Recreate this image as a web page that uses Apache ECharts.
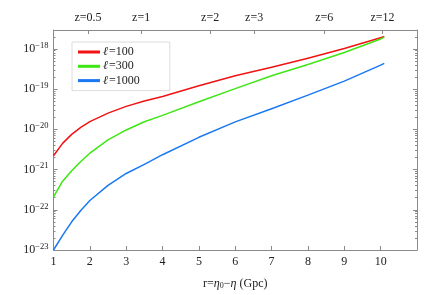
<!DOCTYPE html>
<html><head><meta charset="utf-8">
<script src="https://cdn.jsdelivr.net/npm/echarts@6/dist/echarts.min.js"></script>
<style>html,body{margin:0;padding:0;background:#fff}#c{width:439px;height:295px}#err{position:absolute;top:150px;left:0;font-size:10px;color:#000}</style>
</head><body><div id="c"></div><div id="err"></div>
<script>
const rValues = [1, 1.25, 1.5, 1.75, 2, 2.5, 3, 3.5, 4, 5, 6, 7, 8, 9, 10, 10.1];
const l100 = [2.21e-21, 4.47e-21, 7.50e-21, 1.12e-20, 1.56e-20, 2.53e-20, 3.72e-20, 5.07e-20, 6.53e-20, 1.21e-19, 2.14e-19, 3.49e-19, 5.89e-19, 1.02e-18, 1.90e-18, 2.03e-18];
const l300 = [2.08e-22, 5.13e-22, 9.35e-22, 1.59e-21, 2.55e-21, 5.45e-21, 9.66e-21, 1.54e-20, 2.22e-20, 4.85e-20, 1.03e-19, 2.15e-19, 4.09e-19, 8.13e-19, 1.77e-18, 1.96e-18];
const l1000 = [1.00e-23, 2.32e-23, 5.02e-23, 9.64e-23, 1.70e-22, 4.05e-22, 8.00e-22, 1.35e-21, 2.34e-21, 6.34e-21, 1.53e-20, 3.24e-20, 7.11e-20, 1.58e-19, 3.94e-19, 4.38e-19];
const seriesNames = ['ℓ=100', 'ℓ=300', 'ℓ=1000'];
const zLabels = ['z=0.5', 'z=1', 'z=2', 'z=3', 'z=6', 'z=12'];
const zPositions = [1.95, 3.41, 5.31, 6.52, 8.45, 10.05];
const xTicks = [1, 2, 3, 4, 5, 6, 7, 8, 9, 10];
const yDecades = [-23, -22, -21, -20, -19, -18];

const colors = ['#f21212', '#3ee614', '#1a78f2'];
const axisColor = '#8a8a8a';
const font = 'Liberation Serif, DejaVu Serif, serif';
// log10 axis range (the library's log axis rounds 1e-23 to zero, so plot on log10 scale)
const yMin = -23, yMax = -17.53;
const minorTicks = [];
yDecades.forEach(d => { for (let k = 2; k <= 9; k++) { const v = d + Math.log10(k); if (v < yMax) minorTicks.push(v); } });

function pair(xs, ys) { return xs.map((x, i) => [x, Math.log10(ys[i])]); }
function expLabel(v) {
  const e = Math.round(v);
  return '10{sup|' + (e < 0 ? '−' + (-e) : e) + '}';
}
const supRich = { sup: { fontSize: 8.5, fontFamily: font, color: '#222', verticalAlign: 'top', padding: [0, 0, 7, 0] } };

function yAx(pos, major) {
  return {
    type: 'value', position: pos, min: yMin, max: yMax, interval: 1,
    axisLine: { show: major, lineStyle: { color: axisColor, width: 1 } },
    axisTick: { inside: true, length: major ? 4 : 2, lineStyle: { color: axisColor }, customValues: major ? yDecades : minorTicks },
    axisLabel: major && pos === 'left' ? { customValues: yDecades, formatter: expLabel, fontFamily: font, fontSize: 12, color: '#222', margin: 5, rich: supRich } : { show: false },
    splitLine: { show: false }
  };
}

try {
const chart = echarts.init(document.getElementById('c'), null, { renderer: 'canvas' });
const lineData = [l100, l300, l1000];
chart.setOption({
  animation: false,
  backgroundColor: '#fff',
  grid: { left: 53.5, right: 22, top: 30, bottom: 41, containLabel: false },
  legend: {
    show: true, orient: 'vertical', left: 72, top: 42,
    data: seriesNames,
    icon: 'rect', itemWidth: 22, itemHeight: 3, itemGap: 2.3,
    padding: [4, 30, 4, 6],
    borderColor: '#dcdcdc', borderWidth: 1,
    formatter: n => '{l|ℓ}' + n.slice(1),
    textStyle: { fontFamily: font, fontSize: 12, color: '#222', lineHeight: 12,
      rich: { l: { fontFamily: font, fontSize: 12, fontStyle: 'italic', color: '#222', padding: [0, 1, 0, -2] } } }
  },
  xAxis: [
    {
      type: 'value', position: 'bottom', min: 1, max: 11, interval: 1,
      axisLine: { lineStyle: { color: axisColor, width: 1 } },
      axisTick: { inside: true, length: 4, lineStyle: { color: axisColor }, customValues: xTicks },
      axisLabel: { customValues: xTicks, fontFamily: font, fontSize: 12, color: '#222', margin: 6 },
      splitLine: { show: false },
      name: '{n|r=}{i|η}{s|0}{n|−}{i|η}{n| (Gpc)}', nameLocation: 'middle', nameGap: 27,
      nameTextStyle: { rich: {
        n: { fontFamily: font, fontSize: 12, color: '#222' },
        i: { fontFamily: font, fontSize: 12, fontStyle: 'italic', color: '#222' },
        s: { fontFamily: font, fontSize: 8, color: '#222', verticalAlign: 'bottom', padding: [5, 0, 0, 0] }
      } }
    },
    {
      type: 'value', position: 'top', min: 1, max: 11,
      axisLine: { lineStyle: { color: axisColor, width: 1 } },
      axisTick: { inside: true, length: 4, lineStyle: { color: axisColor }, customValues: zPositions },
      axisLabel: { customValues: zPositions, fontFamily: font, fontSize: 12, color: '#222', margin: 6,
        formatter: v => { let best = 0; zPositions.forEach((p, i) => { if (Math.abs(p - v) < Math.abs(zPositions[best] - v)) best = i; }); return zLabels[best]; } },
      splitLine: { show: false }
    }
  ],
  yAxis: [yAx('left', true), yAx('right', true), yAx('left', false), yAx('right', false)],
  series: lineData.map((d, i) => ({
    name: seriesNames[i], type: 'line', xAxisIndex: 0, yAxisIndex: 0,
    data: pair(rValues, d), showSymbol: false, smooth: false,
    lineStyle: { color: colors[i], width: 1.5, join: 'round' }, itemStyle: { color: colors[i] }
  }))
});
} catch (e) { document.getElementById('err').textContent = String(e && e.stack || e).slice(0, 300); }
</script></body></html>
